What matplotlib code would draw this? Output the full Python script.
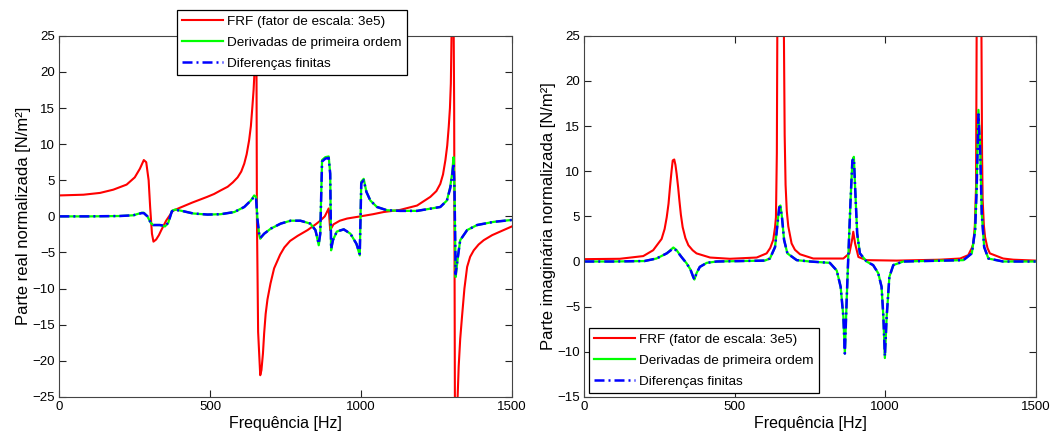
import matplotlib
matplotlib.use("Agg")
import matplotlib.pyplot as plt

plt.rcParams['font.family'] = ['Liberation Sans', 'DejaVu Sans']

# ---- parte real ----
freq_re_frf = [0, 80, 135, 179, 223, 250, 267, 280, 288, 296, 301, 307, 312, 321, 330, 338, 354,
               376, 400, 420, 440, 465, 490, 513, 535, 558, 575, 591, 603, 613, 621, 629, 635,
               640, 644, 647, 650, 653, 655, 659, 666, 670, 675, 679, 684, 690, 700, 712, 732,
               746, 765, 790, 823, 850, 865, 880, 893, 898, 909, 930, 954, 998, 1040, 1075,
               1130, 1186, 1230, 1250, 1263, 1272, 1280, 1286, 1291, 1295, 1298, 1302, 1306,
               1309, 1312, 1315, 1318, 1324, 1329, 1335, 1343, 1352, 1362, 1374, 1390, 1407,
               1435, 1462, 1500]
re_frf = [2.9, 3.0, 3.25, 3.7, 4.4, 5.4, 6.6, 7.8, 7.5, 5.0, 1.3, -2.4, -3.5, -3.2, -2.6, -1.9, -0.6,
          0.76, 1.2, 1.55, 1.9, 2.3, 2.7, 3.1, 3.6, 4.1, 4.7, 5.4, 6.2, 7.3, 8.6, 10.5, 12.5,
          15.2, 17.5, 20.0, 30.0, 30.0, 0.0, -16.0, -22.0, -21.3, -19.0, -16.2, -13.5, -11.5,
          -9.3, -7.2, -5.3, -4.3, -3.4, -2.7, -1.9, -1.1, -0.6, 0.0, 1.1, -1.9, -1.1, -0.6, -0.3,
          0.0, 0.3, 0.6, 0.9, 1.5, 2.7, 3.5, 4.5, 5.8, 7.8, 9.8, 12.4, 15.0, 18.4, 30.0, 35.0,
          15.0, -35.0, -30.0, -28.0, -20.8, -17.0, -13.9, -10.0, -7.0, -5.6, -4.7, -3.9, -3.3,
          -2.6, -2.1, -1.4]

freq_re_der = [0, 100, 200, 245, 273, 280, 292, 303, 311, 333, 350, 361, 373, 384, 406, 444,
               491, 535, 580, 613, 635, 646, 652, 657, 663, 666, 679, 701, 734, 767, 799, 832,
               849, 860, 865, 871, 882, 893, 898, 901, 907, 920, 943, 965, 985, 996, 1001,
               1009, 1018, 1031, 1053, 1086, 1130, 1186, 1263, 1285, 1296, 1302, 1307, 1310,
               1314, 1320, 1329, 1352, 1385, 1440, 1500]
re_der = [0.0, 0.0, 0.05, 0.15, 0.5, 0.5, 0.0, -0.9, -1.2, -1.2, -1.4, -0.9, 0.76, 0.95, 0.76, 0.4,
          0.25, 0.3, 0.6, 1.3, 2.2, 2.9, 2.7, -0.5, -2.6, -3.1, -2.4, -1.7, -1.0, -0.6, -0.6, -1.0,
          -1.9, -4.0, -2.4, 7.8, 8.2, 8.3, 5.9, -4.7, -3.3, -2.1, -1.8, -2.4, -3.8, -5.4, 4.8,
          5.2, 3.4, 2.2, 1.3, 0.85, 0.76, 0.76, 1.3, 2.2, 4.1, 5.9, 8.2, 4.1,
          -8.4, -6.1, -3.3, -1.9, -1.2, -0.76, -0.5]

freq_re_dif = freq_re_der
re_dif = [0.0, 0.0, 0.05, 0.15, 0.45, 0.45, 0.0, -0.9, -1.2, -1.2, -1.3, -0.9, 0.7, 0.9, 0.76, 0.4,
          0.25, 0.3, 0.6, 1.3, 2.2, 2.7, 2.6, -0.5, -2.6, -3.0, -2.4, -1.7, -1.0, -0.6, -0.6, -1.0,
          -1.9, -3.8, -2.4, 7.6, 8.0, 8.1, 5.9, -4.5, -3.3, -2.1, -1.8, -2.4, -3.8, -5.2, 4.6,
          5.0, 3.4, 2.2, 1.3, 0.85, 0.76, 0.76, 1.3, 2.2, 3.9, 5.5, 7.4, 4.0,
          -8.0, -6.0, -3.3, -1.9, -1.2, -0.76, -0.5]

# ---- parte imaginaria ----
freq_im_frf = [0, 118, 196, 229, 257, 267, 274, 280, 285, 290, 294, 299, 303, 307, 312, 316,
               321, 327, 336, 346, 360, 373, 418, 484, 573, 606, 618, 628, 634, 637, 640, 641.5,
               652, 663.5, 666, 669, 673, 678, 689, 700, 717, 761, 861, 881, 890, 894, 900, 911,
               938, 1038, 1182, 1249, 1276, 1288, 1293, 1298, 1302, 1304, 1311, 1320, 1322,
               1324, 1328, 1332, 1340, 1348, 1392, 1426, 1500]
im_frf = [0.26, 0.3, 0.6, 1.25, 2.5, 3.6, 4.9, 6.4, 8.3, 10.0, 11.2, 11.3, 10.7, 9.7, 8.2, 6.8,
          5.2, 3.8, 2.6, 1.8, 1.25, 0.9, 0.44, 0.3, 0.44, 0.9, 1.5, 2.4, 3.8, 4.9, 12.0, 25.0,
          45.0, 25.0, 14.0, 8.5, 5.6, 3.9, 2.0, 1.3, 0.8, 0.33, 0.33, 0.9, 2.4, 3.3, 2.0, 0.5,
          0.15, 0.1, 0.2, 0.33, 0.7, 1.5, 2.0, 4.0, 8.3, 25.0, 45.0, 25.0, 12.0,
          6.8, 4.0, 2.7, 1.5, 0.9, 0.33, 0.2, 0.1]

freq_im_der = [0, 100, 200, 240, 274, 296, 307, 323, 340, 353, 362, 366, 373, 384, 407, 440,
               600, 617, 634, 641, 648, 652, 657, 664, 675, 706, 750, 816, 839, 852, 861,
               866, 872, 877, 885, 891, 896, 900, 907, 916, 938, 960, 977, 988, 994, 999,
               1005, 1014, 1027, 1060, 1260, 1288, 1299, 1304, 1310, 1316, 1321, 1329, 1343,
               1392, 1500]
im_der = [0.0, 0.0, 0.05, 0.33, 0.9, 1.55, 1.25, 0.5, -0.2, -0.9, -1.7, -2.0, -1.3, -0.6, -0.15, 0.0,
          0.1, 0.33, 1.6, 3.8, 6.1, 6.2, 4.9, 2.4, 0.9, 0.15, 0.0, -0.15, -1.0, -2.8, -6.1,
          -10.2, -4.3, 0.15, 6.8, 11.2, 11.6, 8.3, 3.1, 0.9, 0.0, -0.4, -1.3, -2.8, -6.1, -10.7,
          -6.1, -1.7, -0.4, 0.0, 0.15, 0.9, 3.5, 8.3, 16.8, 12.3, 5.3, 1.6, 0.33,
          0.0, 0.0]

freq_im_dif = freq_im_der
im_dif = [0.0, 0.0, 0.05, 0.33, 0.9, 1.45, 1.2, 0.5, -0.2, -0.9, -1.7, -2.0, -1.3, -0.6, -0.15, 0.0,
          0.1, 0.33, 1.6, 3.8, 6.0, 6.0, 4.9, 2.4, 0.9, 0.15, 0.0, -0.15, -1.0, -2.8, -6.1,
          -10.2, -4.3, 0.15, 6.8, 11.2, 11.4, 8.3, 3.1, 0.9, 0.0, -0.4, -1.3, -2.8, -6.1, -10.5,
          -6.1, -1.7, -0.4, 0.0, 0.15, 0.9, 3.5, 8.0, 16.3, 12.0, 5.3, 1.6, 0.33,
          0.0, 0.0]

labels = ['FRF (fator de escala: 3e5)', 'Derivadas de primeira ordem', 'Diferenças finitas']
xticks = [0, 500, 1000, 1500]
yticks_re = [-25, -20, -15, -10, -5, 0, 5, 10, 15, 20, 25]
yticks_im = [-15, -10, -5, 0, 5, 10, 15, 20, 25]

fig = plt.figure(figsize=(10.6, 4.4), dpi=100)
ax1 = fig.add_axes([0.056, 0.098, 0.4268, 0.8205])
ax2 = fig.add_axes([0.5512, 0.098, 0.4258, 0.8205])

dashdot = (0, (4, 1.6, 0.8, 1.6))


def draw(ax, fr, yr, fd, yd, ff, yf):
    ax.plot(fr, yr, color='#ff0000', lw=1.5, label=labels[0])
    ax.plot(fd, yd, color='#00ff00', lw=1.6, label=labels[1])
    ax.plot(ff, yf, color='#0000ff', lw=1.8, ls=dashdot, label=labels[2])
    ax.set_xlim(0, 1500)
    ax.set_xticks(xticks)
    ax.tick_params(direction='in', top=True, right=True, length=5, labelsize=9.5,
                   color='#222222', pad=3)
    for s in ax.spines.values():
        s.set_color('#444444')
        s.set_linewidth(0.8)
    ax.set_xlabel('Frequência [Hz]', fontsize=11.5, labelpad=2)


draw(ax1, freq_re_frf, re_frf, freq_re_der, re_der, freq_re_dif, re_dif)
ax1.set_ylim(-25, 25)
ax1.set_yticks(yticks_re)
ax1.set_ylabel('Parte real normalizada [N/m²]', fontsize=12, labelpad=1)

draw(ax2, freq_im_frf, im_frf, freq_im_der, im_der, freq_im_dif, im_dif)
ax2.set_ylim(-15, 25)
ax2.set_yticks(yticks_im)
ax2.set_ylabel('Parte imaginária normalizada [N/m²]', fontsize=12, labelpad=1)

leg_kw = dict(fontsize=9.7, handlelength=3.0, handletextpad=0.3, labelspacing=0.62,
              fancybox=False, edgecolor='black', framealpha=1, borderpad=0.4,
              borderaxespad=0, bbox_transform=fig.transFigure)
leg1 = ax1.legend(loc='upper left', bbox_to_anchor=(0.167, 0.977), **leg_kw)
leg2 = ax2.legend(loc='lower left', bbox_to_anchor=(0.5557, 0.107), **leg_kw)
for lg in (leg1, leg2):
    lg.get_frame().set_linewidth(0.9)
    lg.set_zorder(10)

fig.savefig('out.png', dpi=100)
